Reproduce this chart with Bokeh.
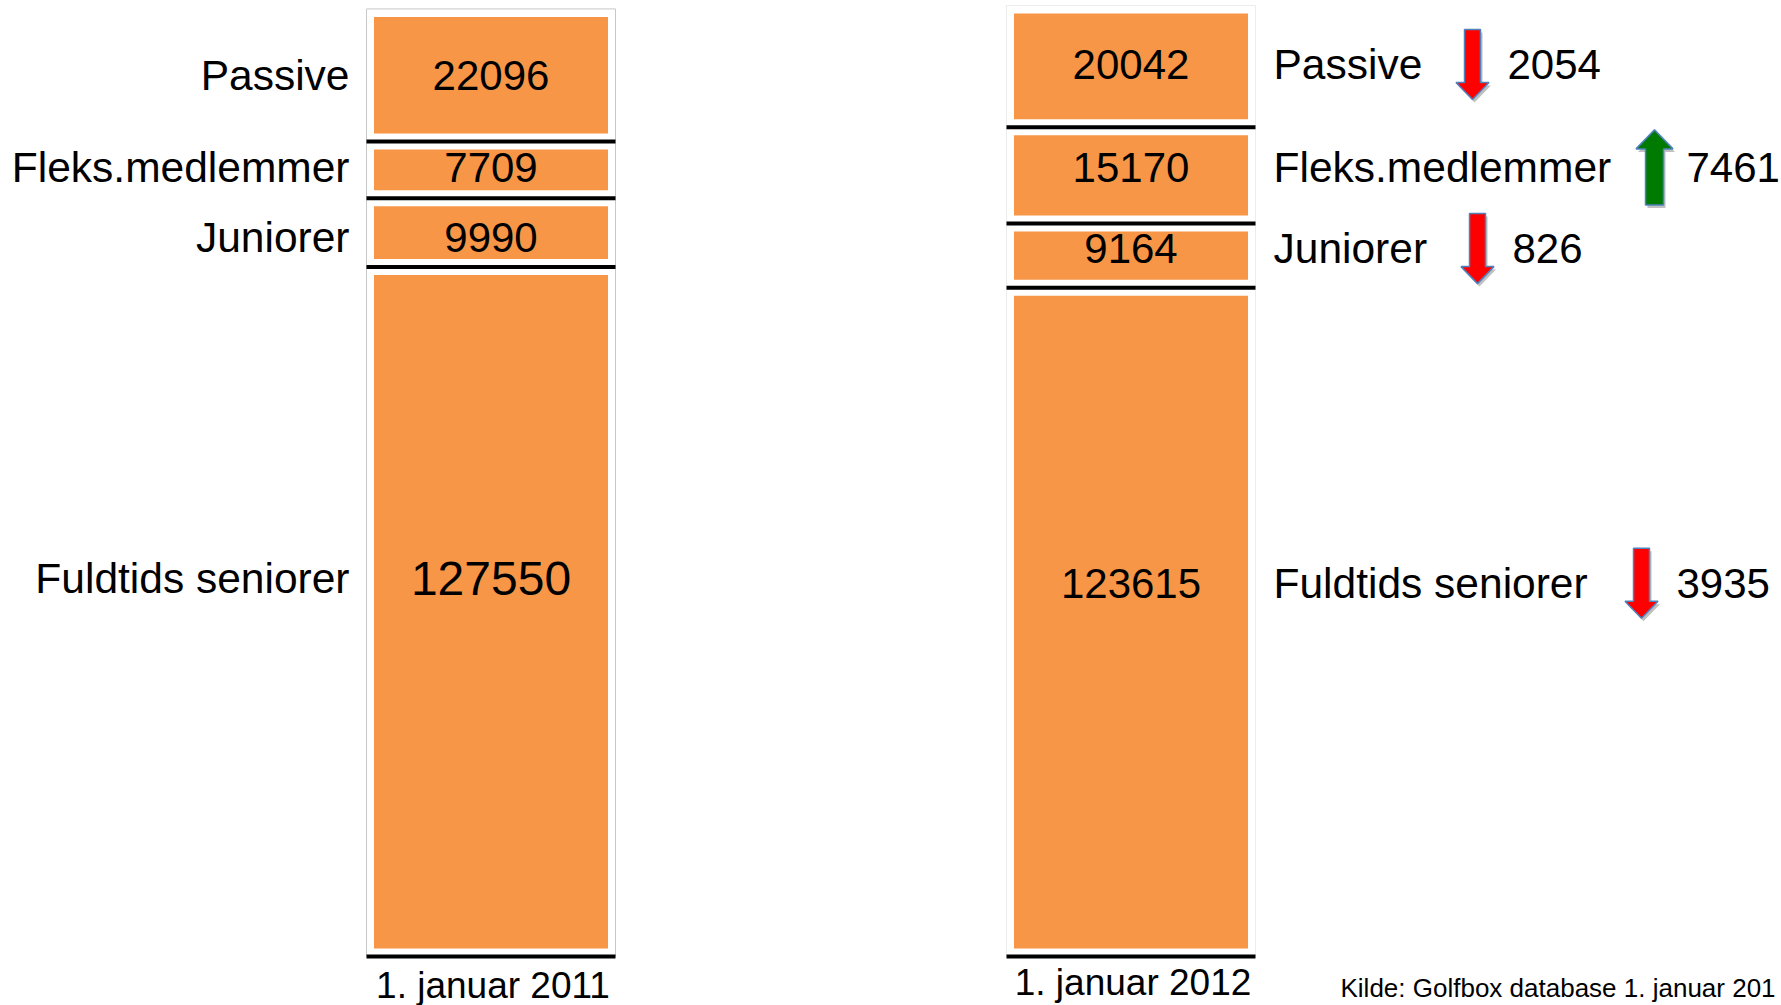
from bokeh.plotting import figure
from bokeh.models import Range1d, ColumnDataSource
from bokeh.embed import file_html
from bokeh.resources import INLINE
from bokeh.core.properties import value

# ---------------- data ----------------
categories = ["Passive", "Fleks.medlemmer", "Juniorer", "Fuldtids seniorer"]
dates = ["1. januar 2011", "1. januar 2012"]
values_2011 = [22096, 7709, 9990, 127550]
values_2012 = [20042, 15170, 9164, 123615]
changes = [-2054, 7461, -826, -3935]
source_note = "Kilde: Golfbox database 1. januar 201"

# ---------------- layout / style ----------------
W, H = 1781, 1005
PX = 0.00528            # pixels per member
unit = 1.0 / PX         # members per pixel
BASE_PAGE_Y = 956       # page y of the stack base
gap = 16 * unit         # white gap around each segment (in member units)
FONT = value("Liberation Sans")
ORANGE = "#F79646"

col_x = [490.5, 1130.5]
box_w, inner_w = 249, 234
outline_colors = ["#c8c8c8", "#ededed"]
# vertical nudge of labels per column (px, up negative)
label_shift_px = [[0, -2, 5, -33], [-2, -8, -7, -39]]
value_font = [["42px", "42px", "42px", "48px"], ["42px", "42px", "42px", "42px"]]
date_y = [985, 982]
arrow_x = [1472, 1654, 1477, 1641]
change_text_x = [1507, 1686, 1512, 1676]


def page_to_s(py):
    return (BASE_PAGE_Y - py) * unit


p = figure(width=W, height=H, x_range=Range1d(0, W),
           y_range=Range1d(page_to_s(H), page_to_s(0)),
           output_backend="svg", toolbar_location=None, min_border=0,
           outline_line_color=None)
p.axis.visible = False
p.grid.visible = False
p.background_fill_color = "white"


def stack(vals):
    bottoms, tops = [0.0] * len(vals), [0.0] * len(vals)
    cur = 0.0
    for i in reversed(range(len(vals))):
        bottoms[i] = cur
        tops[i] = cur + vals[i] + gap
        cur = tops[i]
    return bottoms, tops


centers_by_col = []
for ci, vals in enumerate([values_2011, values_2012]):
    bottoms, tops = stack(vals)
    xs = [col_x[ci]] * len(vals)
    src = ColumnDataSource(dict(
        x=xs, bottom=bottoms, top=tops,
        ib=[b + gap / 2 for b in bottoms], it=[t - gap / 2 for t in tops],
        label=[str(v) for v in vals],
        yc=[(b + t) / 2 + (-s) * unit for b, t, s in zip(bottoms, tops, label_shift_px[ci])],
        fs=value_font[ci],
        x0=[c - box_w / 2 for c in xs], x1=[c + box_w / 2 for c in xs],
    ))
    centers_by_col.append(src.data["yc"])
    p.vbar(x="x", width=box_w, bottom="bottom", top="top", source=src,
           fill_color="white", line_color=outline_colors[ci], line_width=1)
    p.vbar(x="x", width=inner_w, bottom="ib", top="it", source=src,
           fill_color=ORANGE, line_color=None)
    p.segment(x0="x0", x1="x1", y0="bottom", y1="bottom", source=src,
              line_color="black", line_width=4)
    p.text(x="x", y="yc", text="label", source=src, text_font=FONT,
           text_font_size="fs", text_align="center", text_baseline="middle",
           text_color="black")
    # date label under column
    p.text(x=[col_x[ci] + 2], y=[page_to_s(date_y[ci])], text=[dates[ci]], text_font=FONT,
           text_font_size="37px", text_align="center", text_baseline="middle",
           text_color="black")

# left category labels (2011 column)
p.text(x=[349] * 4, y=centers_by_col[0], text=categories, text_font=FONT,
       text_font_size="42.5px", text_align="right", text_baseline="middle",
       text_color="black")
# right category labels (2012 column)
p.text(x=[1273] * 4, y=centers_by_col[1], text=categories, text_font=FONT,
       text_font_size="42.5px", text_align="left", text_baseline="middle",
       text_color="black")

# change arrows
arrow_xs, arrow_ys, shadow_xs, shadow_ys, arrow_fill = [], [], [], [], []
for i, ch in enumerate(changes):
    cx = arrow_x[i]
    cy = centers_by_col[1][i]
    if ch < 0:
        sw, hw, L, hh = 16, 33, 70, 17
    else:
        sw, hw, L, hh = 18, 37, 75, 19
    pts = [(-sw / 2, -L / 2), (sw / 2, -L / 2), (sw / 2, L / 2 - hh), (hw / 2, L / 2 - hh),
           (0, L / 2), (-hw / 2, L / 2 - hh), (-sw / 2, L / 2 - hh)]
    if ch > 0:
        pts = [(dx, -dy) for dx, dy in pts]
    arrow_xs.append([cx + dx for dx, dy in pts])
    arrow_ys.append([cy - dy * unit for dx, dy in pts])
    shadow_xs.append([cx + dx + 2 for dx, dy in pts])
    shadow_ys.append([cy - (dy + 3) * unit for dx, dy in pts])
    arrow_fill.append("#FF0000" if ch < 0 else "#007A00")

p.patches(xs=shadow_xs, ys=shadow_ys, fill_color="#8c8c8c", fill_alpha=0.55, line_color=None)
p.patches(xs=arrow_xs, ys=arrow_ys, fill_color=arrow_fill, line_color="#4F81BD", line_width=1.5)

p.text(x=change_text_x, y=centers_by_col[1], text=[str(abs(c)) for c in changes],
       text_font=FONT, text_font_size="42px", text_align="left", text_baseline="middle",
       text_color="black")

# source note
p.text(x=[1340], y=[page_to_s(987)], text=[source_note], text_font=FONT,
       text_font_size="26px", text_align="left", text_baseline="middle",
       text_color="black")

open("out.html", "w").write(file_html(p, INLINE))
